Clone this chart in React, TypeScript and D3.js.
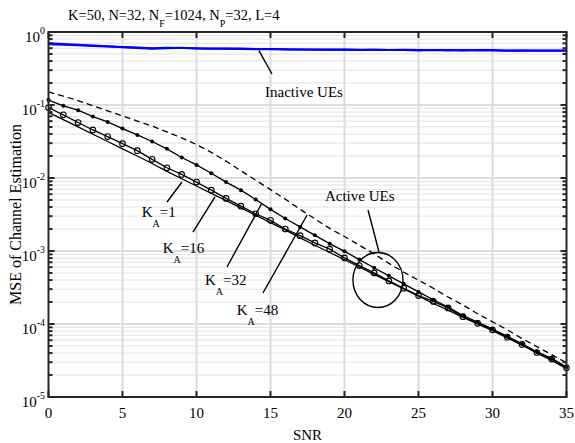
import React from 'react';
import * as d3 from 'd3';

// ---------- data ----------
const snr = [0,1,2,3,4,5,6,7,8,9,10,11,12,13,14,15,16,17,18,19,20,21,22,23,24,25,26,27,28,29,30,31,32,33,34,35];

// Active UEs, K_A = 1 (solid, no marker)
const mseKA1 = [0.0794,0.0631,0.0501,0.0398,0.0316,0.0251,0.0200,0.0158,0.0123,0.00977,0.00776,0.00617,0.00490,0.00389,0.00309,0.00245,0.00195,0.00151,0.00120,9.55e-4,7.59e-4,6.03e-4,4.79e-4,3.80e-4,3.02e-4,2.40e-4,1.91e-4,1.55e-4,1.23e-4,1.00e-4,8.13e-5,6.46e-5,5.13e-5,3.98e-5,3.16e-5,2.45e-5];
// K_A = 16 (solid, open circles)
const mseKA16 = [0.0923,0.0733,0.0575,0.0455,0.0369,0.0295,0.0237,0.0180,0.0138,0.0112,0.00879,0.00682,0.00525,0.00411,0.00324,0.00263,0.00200,0.00162,0.00129,0.00106,8.04e-4,6.31e-4,5.01e-4,3.89e-4,3.09e-4,2.45e-4,2.04e-4,1.66e-4,1.26e-4,1.02e-4,8.32e-5,6.61e-5,5.25e-5,4.07e-5,3.31e-5,2.51e-5];
// K_A = 32 (solid, dots)
const mseKA32 = [0.117,0.0973,0.0849,0.0695,0.0586,0.0475,0.0389,0.0316,0.0251,0.0191,0.0151,0.0116,0.00879,0.00682,0.00508,0.00372,0.00279,0.00214,0.00164,0.00126,9.9e-4,7.62e-4,5.89e-4,4.57e-4,3.55e-4,2.75e-4,2.15e-4,1.71e-4,1.30e-4,1.06e-4,8.51e-5,6.76e-5,5.37e-5,4.17e-5,3.39e-5,2.57e-5];
// K_A = 48 (dashed)
const mseKA48 = [0.151,0.132,0.115,0.0977,0.0832,0.0708,0.0603,0.0513,0.0427,0.0355,0.0288,0.0224,0.0170,0.0126,0.00933,0.00692,0.00513,0.00372,0.00275,0.00204,0.00158,0.00120,9.12e-4,6.76e-4,5.13e-4,3.98e-4,3.09e-4,2.34e-4,1.82e-4,1.38e-4,1.07e-4,8.32e-5,6.31e-5,4.90e-5,3.80e-5,2.95e-5];

// Inactive UEs (blue)
const inactiveA = [0.70,0.685,0.67,0.655,0.64,0.625,0.615,0.60,0.61,0.605,0.60,0.595,0.59,0.595,0.585,0.585,0.58,0.575,0.575,0.57,0.575,0.57,0.57,0.565,0.57,0.565,0.565,0.565,0.56,0.565,0.565,0.56,0.56,0.56,0.56,0.56];
const inactiveB = [0.68,0.67,0.66,0.645,0.635,0.62,0.605,0.59,0.60,0.61,0.595,0.59,0.595,0.585,0.58,0.585,0.575,0.575,0.57,0.575,0.57,0.565,0.57,0.565,0.565,0.56,0.565,0.56,0.565,0.56,0.56,0.555,0.56,0.555,0.555,0.555];

const xTicks = [0,5,10,15,20,25,30,35];
const yExponents = [0,-1,-2,-3,-4,-5];

const kaLabels = ['1','16','32','48'];

// annotation anchors in data coordinates [snr, mse]
const kaLabelPos: [number, number][] = [[6.3,2.92e-3],[7.72,9.4e-4],[10.57,3.42e-4],[12.72,1.33e-4]];
const kaPointers: [number, number][][] = [
  [[8.01,4.69e-3],[9.02,8.81e-3]],
  [[9.76,1.82e-3],[11.25,5.5e-3]],
  [[12.06,6.04e-4],[14.43,4.55e-3]],
  [[14.49,2.66e-4],[17.47,3.11e-3]],
];
const activeTextPos: [number, number] = [18.68,4.84e-3];
const activePointer: [number, number][] = [[21.59,3.65e-3],[22.33,9.7e-4]];
const activeEllipseCenter: [number, number] = [22.26,4.0e-4];
const inactiveTextPos: [number, number] = [14.63,0.129];
const inactivePointer: [number, number][] = [[14.22,0.555],[15.1,0.266]];

// ---------- layout ----------
const W = 575, H = 443;
const L = 48.5, R = 566.5, T = 32, B = 397;
const FONT = "'Liberation Serif', 'Times New Roman', Times, serif";
const AX = '#262626';
const TS: React.CSSProperties = { fontFamily: FONT };

export default function App() {
  const x = d3.scaleLinear().domain([0, 35]).range([L, R]);
  const y = d3.scaleLog().domain([1e-5, 1]).range([B, T]);

  const line = (vals: number[]) =>
    d3.line<number>().x((_, i) => x(snr[i])).y(d => y(d))(vals) || '';

  const minor: number[] = [];
  for (let e = -5; e < 0; e++) for (let m = 2; m <= 9; m++) minor.push(m * Math.pow(10, e));

  const P = (p: [number, number]) => [x(p[0]), y(p[1])];

  return (
    <svg width={W} height={H} style={{ position: 'absolute', left: 0, top: 0, background: '#fff', fontFamily: FONT }}>
      <rect x={0} y={0} width={W} height={H} fill="#fff" />
      {/* minor y grid */}
      {minor.map((v, i) => (
        <line key={'mg' + i} x1={L} x2={R} y1={y(v)} y2={y(v)} stroke="#c4c4c4" strokeWidth={1} strokeDasharray="1,1" />
      ))}
      {/* major grid */}
      {xTicks.slice(1, -1).map(t => (
        <line key={'gx' + t} x1={x(t)} x2={x(t)} y1={T} y2={B} stroke="#dcdcdc" strokeWidth={2} />
      ))}
      {yExponents.slice(1, -1).map(e => (
        <line key={'gy' + e} x1={L} x2={R} y1={y(Math.pow(10, e))} y2={y(Math.pow(10, e))} stroke="#dcdcdc" strokeWidth={2} />
      ))}

      {/* inactive UEs */}
      <path d={line(inactiveA)} fill="none" stroke="#0000ff" strokeWidth={2} />
      <path d={line(inactiveB)} fill="none" stroke="#0000ff" strokeWidth={2} />

      {/* active UEs */}
      <path d={line(mseKA48)} fill="none" stroke="#000" strokeWidth={1.3} strokeDasharray="6,4" />
      <path d={line(mseKA32)} fill="none" stroke="#000" strokeWidth={1.3} />
      <path d={line(mseKA16)} fill="none" stroke="#000" strokeWidth={1.3} />
      <path d={line(mseKA1)} fill="none" stroke="#000" strokeWidth={1.3} />
      {mseKA32.map((v, i) => (
        <circle key={'d' + i} cx={x(snr[i])} cy={y(v)} r={2} fill="#000" />
      ))}
      {mseKA16.map((v, i) => (
        <circle key={'c' + i} cx={x(snr[i])} cy={y(v)} r={2.8} fill="none" stroke="#000" strokeWidth={1.1} />
      ))}

      {/* axes box & ticks */}
      <rect x={L} y={T} width={R - L} height={B - T} fill="none" stroke={AX} strokeWidth={2} />
      {xTicks.map(t => (
        <g key={'xt' + t}>
          <line x1={x(t)} x2={x(t)} y1={B} y2={B - 6} stroke={AX} strokeWidth={2} />
          <line x1={x(t)} x2={x(t)} y1={T} y2={T + 6} stroke={AX} strokeWidth={2} />
          <text x={x(t)} y={418} textAnchor="middle" fontSize={15} fill="#000" style={TS}>{t}</text>
        </g>
      ))}
      {yExponents.map(e => {
        const yy = y(Math.pow(10, e));
        return (
          <g key={'yt' + e}>
            <line x1={L} x2={L + 6} y1={yy} y2={yy} stroke={AX} strokeWidth={2} />
            <line x1={R} x2={R - 6} y1={yy} y2={yy} stroke={AX} strokeWidth={2} />
            <text x={45} y={yy + 10} textAnchor="end" fill="#000" style={TS}>
              <tspan fontSize={15}>10</tspan>
              <tspan fontSize={10} dy={-8}>{e === 0 ? '0' : '-' + Math.abs(e)}</tspan>
            </text>
          </g>
        );
      })}
      {minor.map((v, i) => (
        <g key={'mt' + i}>
          <line x1={L} x2={L + 4} y1={y(v)} y2={y(v)} stroke={AX} strokeWidth={2} />
          <line x1={R} x2={R - 4} y1={y(v)} y2={y(v)} stroke={AX} strokeWidth={2} />
        </g>
      ))}

      {/* axis labels */}
      <text x={(L + R) / 2} y={440} textAnchor="middle" fontSize={15} fill="#000" style={TS}>SNR</text>
      <text transform={`translate(21,${(T + B) / 2}) rotate(-90)`} textAnchor="middle" fontSize={16} fill="#000" style={TS}>MSE of Channel Estimation</text>

      {/* title */}
      <text x={68} y={20} fontSize={14.5} fill="#000" style={TS}>
        <tspan>K=50, N=32, N</tspan>
        <tspan fontSize={10} dy={7}>F</tspan>
        <tspan dy={-7}>=1024, N</tspan>
        <tspan fontSize={10} dy={7}>P</tspan>
        <tspan dy={-7}>=32, L=4</tspan>
      </text>

      {/* K_A annotations */}
      {kaLabels.map((lab, i) => {
        const [tx, ty] = P(kaLabelPos[i]);
        const [a, b] = kaPointers[i].map(P);
        return (
          <g key={'ka' + i}>
            <line x1={a[0]} y1={a[1]} x2={b[0]} y2={b[1]} stroke="#000" strokeWidth={1.4} />
            <text x={tx} y={ty} fontSize={15} fill="#000" style={TS}>
              <tspan>K</tspan>
              <tspan fontSize={10} dy={10}>A</tspan>
              <tspan dy={-10}>={lab}</tspan>
            </text>
          </g>
        );
      })}

      {/* Active UEs */}
      {(() => {
        const [tx, ty] = P(activeTextPos);
        const [a, b] = activePointer.map(P);
        const [cx, cy] = P(activeEllipseCenter);
        return (
          <g>
            <text x={tx} y={ty} fontSize={15} fill="#000" style={TS}>Active UEs</text>
            <line x1={a[0]} y1={a[1]} x2={b[0]} y2={b[1]} stroke="#000" strokeWidth={1.4} />
            <ellipse cx={cx} cy={cy} rx={25} ry={27.5} fill="none" stroke="#000" strokeWidth={1.4} />
          </g>
        );
      })()}

      {/* Inactive UEs */}
      {(() => {
        const [tx, ty] = P(inactiveTextPos);
        const [a, b] = inactivePointer.map(P);
        return (
          <g>
            <line x1={a[0]} y1={a[1]} x2={b[0]} y2={b[1]} stroke="#000" strokeWidth={1.4} />
            <text x={tx} y={ty} fontSize={15} fill="#000" style={TS}>Inactive UEs</text>
          </g>
        );
      })()}
    </svg>
  );
}
